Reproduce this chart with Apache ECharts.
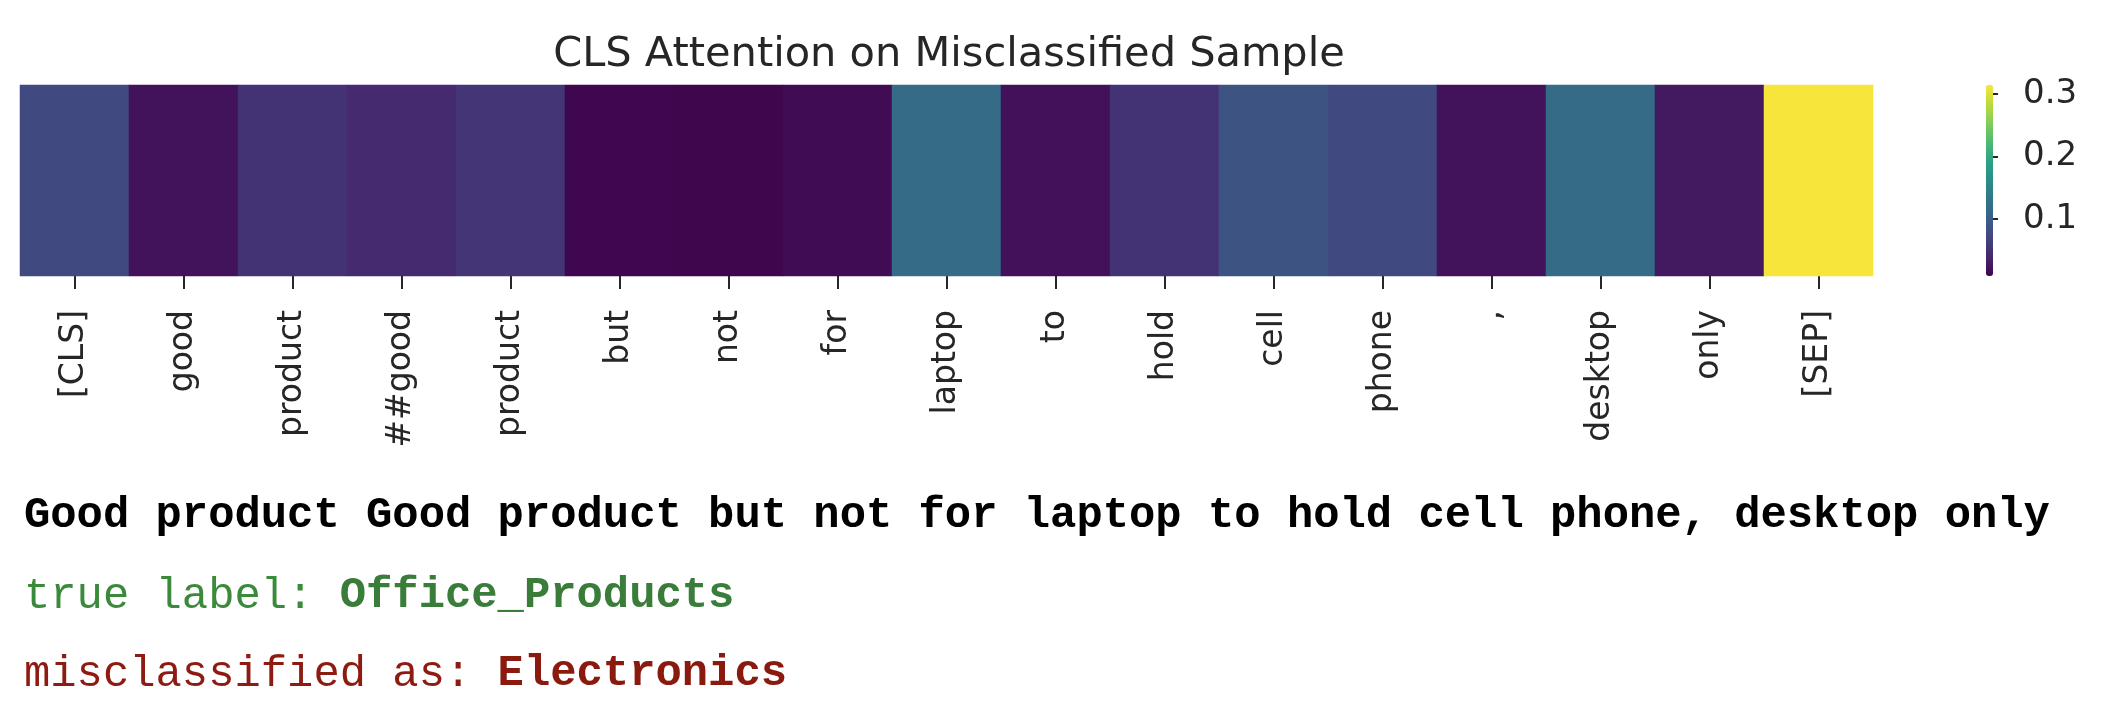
<!DOCTYPE html>
<html>
<head>
<meta charset="utf-8">
<script src="https://cdn.jsdelivr.net/npm/echarts@6/dist/echarts.min.js"></script>
<style>
  html, body { margin: 0; padding: 0; background: #ffffff; }
  #chart { width: 2106px; height: 708px; }
</style>
</head>
<body>
<div id="chart"></div>
<script>
// ---- data ----
const tokens = ['[CLS]', 'good', 'product', '##good', 'product', 'but', 'not', 'for', 'laptop', 'to', 'hold', 'cell', 'phone', ',', 'desktop', 'only', '[SEP]'];
const attention = [0.076, 0.021, 0.052, 0.043, 0.055, 0.011, 0.009, 0.015, 0.118, 0.020, 0.052, 0.088, 0.076, 0.021, 0.118, 0.027, 0.314];
const colorbarTicks = [0.1, 0.2, 0.3];
const titleText = 'CLS Attention on Misclassified Sample';
const sentence = 'Good product Good product but not for laptop to hold cell phone, desktop only';
const trueLabel = 'Office_Products';
const predLabel = 'Electronics';

// viridis, slightly muted as in the reference rendering
const viridisBase = ['#440154', '#482475', '#414487', '#355f8d', '#2a788e', '#21918c', '#22a884', '#44bf70', '#7ad151', '#bddf26', '#fde725'];
function mute(hex, k) {
  const r = parseInt(hex.slice(1, 3), 16), g = parseInt(hex.slice(3, 5), 16), b = parseInt(hex.slice(5, 7), 16);
  const l = 0.299 * r + 0.587 * g + 0.114 * b;
  const f = c => Math.round(c * (1 - k) + l * k).toString(16).padStart(2, '0');
  return '#' + f(r) + f(g) + f(b);
}
const viridis = viridisBase.map(c => mute(c, 0.13));

const vmin = Math.min(...attention);
const vmax = Math.max(...attention);

const heatData = attention.map((v, i) => [i, 0, v]);

const chart = echarts.init(document.getElementById('chart'));
const mono = '"Courier New", "Liberation Mono", monospace';

chart.setOption({
  backgroundColor: '#ffffff',
  animation: false,
  title: {
    text: titleText,
    left: 944,
    textAlign: 'center',
    top: 29,
    textStyle: { fontFamily: 'DejaVu Sans', fontSize: 41.5, fontWeight: 'normal', color: '#262626' }
  },
  grid: [
    { left: 20, top: 85, width: 1853, height: 191 },
    { left: 1986, top: 85, width: 7, height: 191 }
  ],
  xAxis: [
    {
      gridIndex: 0,
      type: 'category',
      data: tokens,
      axisLine: { show: false },
      axisTick: { show: true, alignWithLabel: true, length: 13, lineStyle: { color: '#262626', width: 2 } },
      axisLabel: { rotate: 90, margin: 34, fontFamily: 'DejaVu Sans', fontSize: 33, color: '#262626' },
      splitLine: { show: false }
    },
    {
      gridIndex: 1, type: 'value', show: false
    }
  ],
  yAxis: [
    {
      gridIndex: 0,
      type: 'category',
      data: [''],
      show: false
    },
    {
      gridIndex: 1,
      type: 'value',
      position: 'right',
      min: vmin,
      max: vmax,
      axisLine: { show: false },
      splitLine: { show: false },
      axisTick: { show: true, length: 12, customValues: colorbarTicks, lineStyle: { color: '#262626', width: 2 } },
      axisLabel: { margin: 30, customValues: colorbarTicks, fontFamily: 'DejaVu Sans', fontSize: 34, color: '#262626',
        formatter: v => v.toFixed(1) }
    }
  ],
  visualMap: {
    type: 'continuous',
    min: vmin,
    max: vmax,
    seriesIndex: 0,
    calculable: false,
    realtime: false,
    text: null,
    showLabel: false,
    orient: 'vertical',
    left: 1986,
    top: 85,
    itemWidth: 7,
    itemHeight: 191,
    padding: 0,
    inRange: { color: viridis },
    hoverLink: false
  },
  series: [
    {
      type: 'heatmap',
      xAxisIndex: 0,
      yAxisIndex: 0,
      data: heatData,
      itemStyle: { borderWidth: 0 },
      emphasis: { disabled: true }
    }
  ],
  graphic: [
    {
      type: 'text', left: 24, top: 494,
      style: { text: sentence, font: 'bold 43.85px ' + mono, fill: '#000000' }
    },
    {
      type: 'text', left: 24, top: 574,
      style: {
        text: '{a|true label: }{b|' + trueLabel + '}',
        rich: {
          a: { fontFamily: mono, fontSize: 43.85, fontWeight: 'normal', fill: '#3b8a3b', color: '#3b8a3b' },
          b: { fontFamily: mono, fontSize: 43.85, fontWeight: 'bold', fill: '#3a7d3a', color: '#3a7d3a' }
        }
      }
    },
    {
      type: 'text', left: 24, top: 652,
      style: {
        text: '{a|misclassified as: }{b|' + predLabel + '}',
        rich: {
          a: { fontFamily: mono, fontSize: 43.85, fontWeight: 'normal', fill: '#8e1b12', color: '#8e1b12' },
          b: { fontFamily: mono, fontSize: 43.85, fontWeight: 'bold', fill: '#8a1a0e', color: '#8a1a0e' }
        }
      }
    }
  ]
});
</script>
</body>
</html>
